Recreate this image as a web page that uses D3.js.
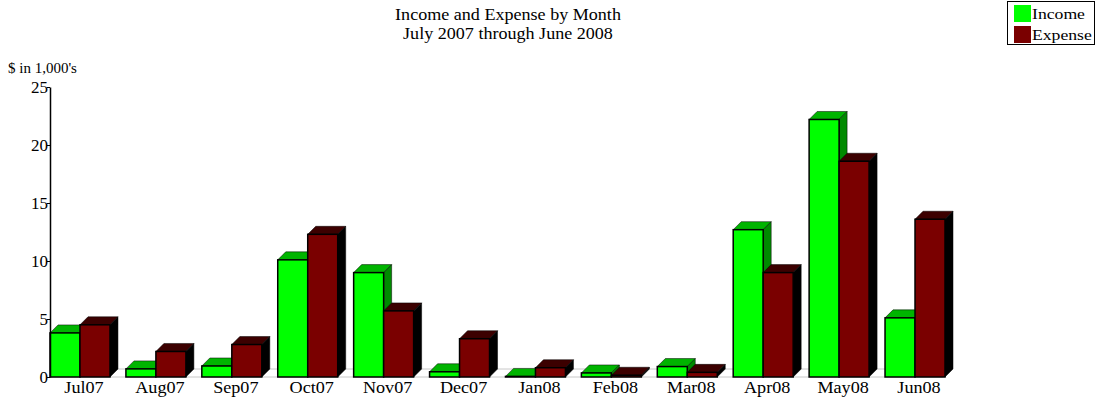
<!DOCTYPE html>
<html>
<head>
<meta charset="utf-8">
<script src="https://cdn.jsdelivr.net/npm/d3@7"></script>
<style>
	body { margin: 0; background: #fff; }
	text { font-family: "Liberation Serif", "Times New Roman", serif; fill: #000; }
</style>
</head>
<body>
<script>
var months = ["Jul07", "Aug07", "Sep07", "Oct07", "Nov07", "Dec07", "Jan08", "Feb08", "Mar08", "Apr08", "May08", "Jun08"];
var income = [3.8, 0.7, 0.95, 10.1, 9.0, 0.45, 0.05, 0.35, 0.9, 12.7, 22.2, 5.1];
var expense = [4.5, 2.2, 2.8, 12.3, 5.7, 3.3, 0.8, 0.15, 0.4, 9.0, 18.6, 13.6];
var yTicks = [0, 5, 10, 15, 20, 25];
var seriesNames = ["Income", "Expense"];

(function(){
	var svg = d3.select("body")
			.append("svg")
			.attr("width", 1097)
			.attr("height", 402);

	var depth = 8;
	var colors = {
		Income: {front: "#00ff00", top: "#00b400", side: "#008a00"},
		Expense: {front: "#7a0000", top: "#3c0000", side: "#000000"}
	};

	// text stretched a bit wider, like the original renderer
	function stretched(sel, px, py, sx) {
		return sel.append("text")
				.attr("transform", "translate(" + px + "," + py + ") scale(" + sx + ",1)");
	}

	var x = d3.scaleBand()
			.domain(months)
			.range([50, 945])
			.paddingInner(0.21)
			.paddingOuter(0);
	var xs = d3.scaleBand()
			.domain(seriesNames)
			.range([0, x.bandwidth()]);
	var y = d3.scaleLinear()
			.domain([0, 25])
			.range([377, 87]);

	// titles
	stretched(svg, 508, 20, 1.13).attr("text-anchor", "middle")
			.style("font-size", "16px").text("Income and Expense by Month");
	stretched(svg, 508, 39, 1.13).attr("text-anchor", "middle")
			.style("font-size", "16px").text("July 2007 through June 2008");
	svg.append("text").attr("x", 8).attr("y", 73)
			.style("font-size", "15px").text("$ in 1,000's");

	// floor
	var x0 = x.range()[0], x1 = x0 + 12 * x.step() - 18;
	svg.append("path")
			.attr("d", "M" + x0 + "," + y(0) + " L" + x1 + "," + y(0) + " l" + depth + "," + (-depth) +
				" L" + (x0 + depth) + "," + (y(0) - depth))
			.attr("fill", "none")
			.attr("stroke", "#c8c8c8")
			.attr("stroke-width", 1);

	// bars
	var data = [];
	months.forEach(function(m, i) {
		data.push({m: m, s: "Income", v: income[i]});
		data.push({m: m, s: "Expense", v: expense[i]});
	});

	var g = svg.append("g");
	data.forEach(function(d) {
		var bx = x(d.m) + xs(d.s), bw = xs.bandwidth(), by = y(d.v), b0 = y(0);
		var c = colors[d.s];
		// top face
		g.append("path")
				.attr("d", "M" + bx + "," + by + " l" + depth + "," + (-depth) + " l" + bw + ",0 l" + (-depth) + "," + depth + "Z")
				.attr("fill", c.top).attr("stroke", "#000").attr("stroke-width", 0.5);
		// side face
		g.append("path")
				.attr("d", "M" + (bx + bw) + "," + by + " l" + depth + "," + (-depth) + " L" + (bx + bw + depth) + "," + (b0 - depth) +
					" L" + (bx + bw) + "," + b0 + "Z")
				.attr("fill", c.side).attr("stroke", "#000").attr("stroke-width", 0.5);
		// front face
		g.append("rect")
				.attr("x", bx).attr("y", by)
				.attr("width", bw).attr("height", b0 - by)
				.attr("fill", c.front).attr("stroke", "#000").attr("stroke-width", 1.5);
	});

	// y axis
	var yAxis = svg.append("g")
			.attr("transform", "translate(50,0)")
			.call(d3.axisLeft(y).tickValues(yTicks).tickSize(3).tickSizeOuter(0));
	yAxis.select(".domain").attr("stroke", "#000").attr("stroke-width", 1.5);
	yAxis.selectAll("text").style("font-size", "17px").attr("x", -2).attr("dy", "0.35em")
			.style("font-family", "Liberation Serif");

	// x labels
	var xl = svg.append("g");
	months.forEach(function(m) {
		stretched(xl, x(m) + x.bandwidth() / 2 + depth / 2, 393, 1.1)
				.attr("text-anchor", "middle")
				.style("font-size", "16.5px")
				.text(m);
	});

	// legend
	var leg = svg.append("g");
	leg.append("rect").attr("x", 1007.5).attr("y", 1.5).attr("width", 87).attr("height", 43)
			.attr("fill", "#fff").attr("stroke", "#000");
	seriesNames.forEach(function(s, i) {
		leg.append("rect").attr("x", 1014).attr("y", 5 + i * 21).attr("width", 17).attr("height", 17)
				.attr("fill", colors[s].front);
		stretched(leg, 1032, 19 + i * 21, 1.14)
				.style("font-size", "15.5px").text(s);
	});
})();
</script>
</body>
</html>
